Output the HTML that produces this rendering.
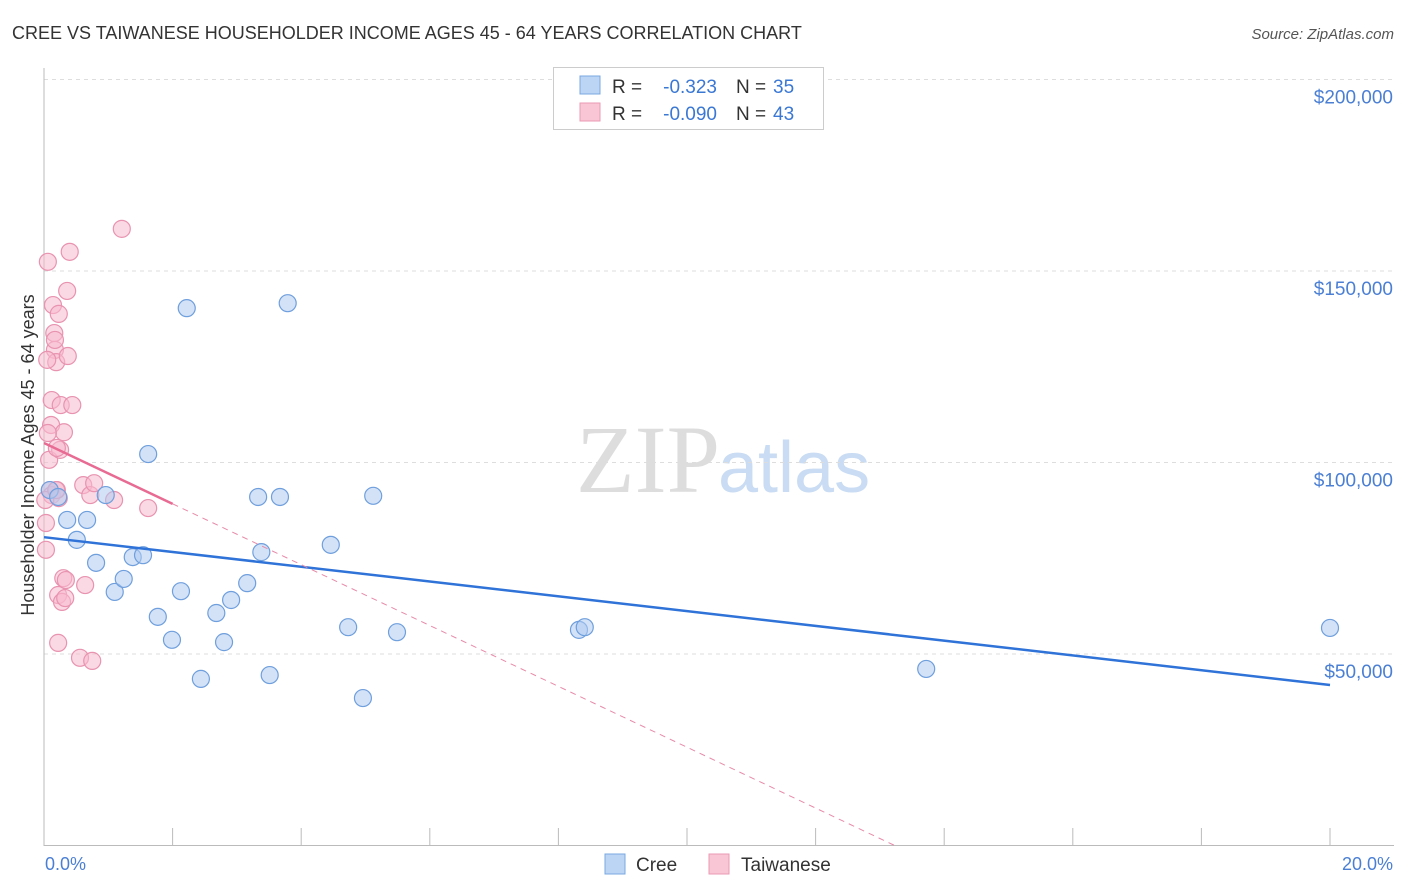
<!DOCTYPE html>
<html><head><meta charset="utf-8"><style>
body{margin:0;background:#fff;font-family:"Liberation Sans",sans-serif;}
svg{display:block}
</style></head><body>
<svg id="chart" width="1406" height="892">
<text x="12" y="39" font-size="18" fill="#333">CREE VS TAIWANESE HOUSEHOLDER INCOME AGES 45 - 64 YEARS CORRELATION CHART</text>
<text x="1394" y="39" font-size="15" fill="#555" font-style="italic" text-anchor="end">Source: ZipAtlas.com</text>
<text x="720" y="492" font-size="96" fill="#ddd" text-anchor="end" font-family="Liberation Serif,serif">ZIP</text>
<text x="718" y="492" font-size="72" fill="#c9dcf3">atlas</text>
<g id="grid"></g><g id="axes"></g><g id="marks"></g>
<text transform="translate(34,455) rotate(-90)" font-size="18" fill="#333" text-anchor="middle">Householder Income Ages 45 - 64 years</text>
<text x="45" y="870" font-size="18" fill="#4a7fd4">0.0%</text>
<text x="1393" y="870" font-size="18" fill="#4a7fd4" text-anchor="end">20.0%</text>
<g>
<rect x="553.5" y="67.5" width="270" height="62" fill="#fff" stroke="#ccc"/>
<rect x="580" y="76" width="20" height="18" fill="#bcd5f5" stroke="#7aa8e0"/>
<rect x="580" y="103" width="20" height="18" fill="#f9c6d5" stroke="#eb9ab5"/>
<text x="612" y="93" font-size="19" fill="#333">R =</text>
<text x="717" y="93" font-size="19" fill="#3a78d4" text-anchor="end">-0.323</text>
<text x="736" y="93" font-size="19" fill="#333">N =</text>
<text x="773" y="93" font-size="19" fill="#3a78d4">35</text>
<text x="612" y="120" font-size="19" fill="#333">R =</text>
<text x="717" y="120" font-size="19" fill="#3a78d4" text-anchor="end">-0.090</text>
<text x="736" y="120" font-size="19" fill="#333">N =</text>
<text x="773" y="120" font-size="19" fill="#3a78d4">43</text>
</g>
<g>
<rect x="605" y="854" width="20" height="20" fill="#bcd5f5" stroke="#7aa8e0"/>
<text x="636" y="871" font-size="19" fill="#333">Cree</text>
<rect x="709" y="854" width="20" height="20" fill="#f9c6d5" stroke="#eb9ab5"/>
<text x="741" y="871" font-size="19" fill="#333">Taiwanese</text>
</g>
</svg>
<script>
const yTicks=[50000,100000,150000,200000];
const yTickLabels=["$50,000","$100,000","$150,000","$200,000"];
const xTicks=[0,2,4,6,8,10,12,14,16,18,20];
const creeX=[0.09,0.22,0.36,0.51,0.67,0.81,0.96,1.10,1.24,1.38,1.54,1.62,1.77,1.99,2.13,2.22,2.44,2.68,2.80,2.91,3.16,3.33,3.38,3.51,3.67,3.79,4.46,4.73,4.96,5.12,5.49,8.32,8.41,13.72,20.0];
const creeY=[92800,91000,85000,79800,85000,73800,91500,66200,69600,75300,75800,102200,59700,53700,66400,140300,43500,60700,53100,64100,68500,91000,76600,44500,91000,141600,78500,57000,38500,91300,55700,56300,57000,46100,56800];
const taiX=[0.03,0.06,0.08,0.09,0.11,0.12,0.14,0.16,0.17,0.19,0.2,0.22,0.22,0.23,0.25,0.26,0.28,0.3,0.31,0.33,0.34,0.36,0.37,0.4,0.44,0.56,0.61,0.64,0.72,0.75,0.78,1.09,1.21,1.62,0.03,0.05,0.06,0.12,0.17,0.2,0.23,0.02,0.19];
const taiY=[84200,152400,100700,92800,109800,116300,141100,133800,129400,126200,92800,65400,52900,138800,103300,115000,63600,69800,107900,64600,69300,144800,127800,155000,115000,49000,94100,68000,91500,48200,94600,90200,161000,88100,77200,126800,107700,91500,132000,103800,90700,90200,92800];
const blueLine=[80500,41900];
const pinkInt=105100, pinkSlope=-7944;
const X=v=>44+v*64.3, Y=v=>654-(v-50000)*191.5/50000;
const NS="http://www.w3.org/2000/svg";
function mk(t,a,p){const e=document.createElementNS(NS,t);for(const k in a)e.setAttribute(k,a[k]);p.appendChild(e);return e;}
const grid=document.getElementById('grid'),axes=document.getElementById('axes'),marks=document.getElementById('marks');
yTicks.forEach((t,i)=>{
 const l=mk('line',{x1:44,x2:1394,y1:Y(t),y2:Y(t),stroke:'#ddd','stroke-dasharray':'4,4'},grid);
 
 
 const tx=mk('text',{x:1393,y:Y(t)+24,'font-size':19,fill:'#4a7fd4','text-anchor':'end'},grid);
 tx.textContent=yTickLabels[i];
 
 
});
mk('line',{x1:44,x2:44,y1:68,y2:846,stroke:'#bbb'},axes);
mk('line',{x1:44,x2:1394,y1:845.5,y2:845.5,stroke:'#bbb'},axes);
xTicks.forEach(t=>{
 const l=mk('line',{x1:X(t),x2:X(t),y1:828,y2:846,stroke:'#bbb'},axes);
 
 
});
function dot(x,y,f,s,name){const c=mk('circle',{cx:X(x),cy:Y(y),r:8.5,fill:f,'fill-opacity':0.55,stroke:s,'stroke-width':1.2},marks);
 
 }
taiX.forEach((x,i)=>dot(x,taiY[i],'#f7b9cd','#e893b0','taiwanese-point'));
creeX.forEach((x,i)=>dot(x,creeY[i],'#aecbf1','#6f9fdd','cree-point'));
const bl=mk('line',{x1:X(0),y1:Y(blueLine[0]),x2:X(20),y2:Y(blueLine[1]),stroke:'#2f72d8','stroke-width':2.5},marks);


const xEnd=-pinkInt/pinkSlope;
const pd=mk('line',{x1:X(2),y1:Y(pinkInt+pinkSlope*2),x2:X(xEnd),y2:Y(0),stroke:'#e88aa8','stroke-width':1,'stroke-dasharray':'6,5'},marks);


const ps=mk('line',{x1:X(0),y1:Y(pinkInt),x2:X(2),y2:Y(pinkInt+pinkSlope*2),stroke:'#e86b94','stroke-width':2.5},marks);


</script>
</body></html>
